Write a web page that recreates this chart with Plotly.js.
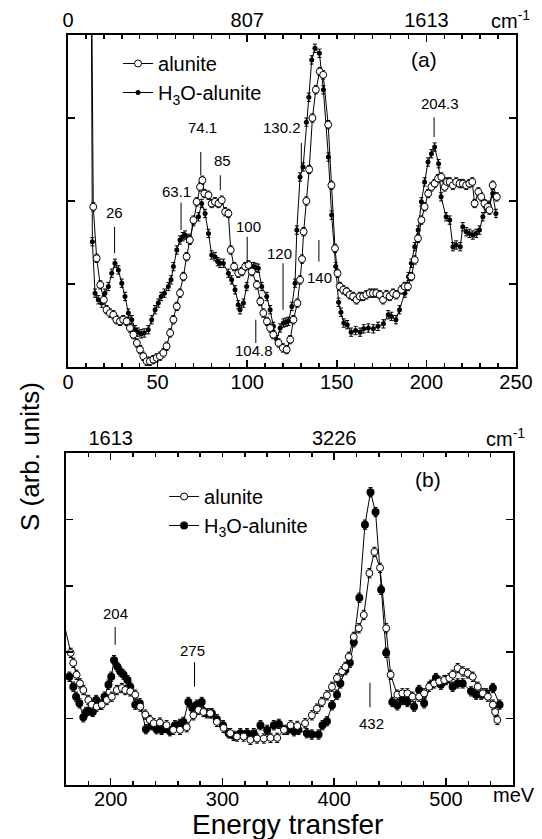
<!DOCTYPE html>
<html><head><meta charset="utf-8">
<script src="https://cdn.plot.ly/plotly-3.0.1.min.js"></script>
<style>html,body{margin:0;padding:0;background:#fff}#chart{width:542px;height:839px}</style>
</head><body><div id="chart"></div>
<script>
// ---------- DATA ----------
// Panel (a): energy transfer (meV) and S (arb. units)
const alunA_E = [12.9,14.1,16.0,18.0,20.0,21.5,23.4,25.3,27.0,29.0,30.8,32.7,34.6,36.5,38.4,40.2,42.0,43.9,45.7,47.6,49.5,51.3,53.2,55.0,57.0,58.8,60.7,62.5,64.4,66.2,68.0,70.0,71.8,73.7,75.0,76.1,78.4,80.2,82.0,84.0,85.8,87.7,89.5,90.8,92.7,95.0,97.0,98.9,100.7,102.6,105.4,107.3,109.0,111.0,112.8,114.6,117.5,119.9,122.0,124.0,125.8,128.0,129.5,130.6,131.5,133.0,134.6,136.4,138.3,140.5,142.4,145.2,147.0,149.0,150.4,151.7,153.6,155.4,157.2,159.1,161.0,162.8,164.7,166.5,168.4,170.2,172.0,174.0,175.8,177.7,179.5,181.4,183.2,186.0,187.9,189.7,191.6,193.5,195.3,197.2,199.0,201.0,202.8,204.6,206.5,208.3,210.2,211.5,213.0,214.8,216.6,218.5,220.3,222.2,224.0,225.6,226.9,229.0,230.6,232.4,234.3,235.2,237.0,239.3];
const alunA_S = [5.5,1.93,1.31,0.99,0.81,0.69,0.65,0.63,0.57,0.55,0.57,0.55,0.47,0.39,0.29,0.21,0.13,0.07,0.07,0.09,0.11,0.13,0.17,0.25,0.41,0.57,0.73,0.89,1.09,1.33,1.53,1.77,1.99,2.17,2.25,2.09,2.07,1.97,1.99,1.97,2.01,1.87,1.85,1.41,1.21,1.13,1.15,1.21,1.23,1.15,0.99,0.79,0.65,0.55,0.47,0.39,0.29,0.23,0.21,0.33,0.57,0.77,1.05,1.30,1.63,2.00,2.38,3.00,3.34,3.56,3.52,2.92,2.19,1.43,1.13,0.97,0.93,0.91,0.87,0.85,0.81,0.85,0.85,0.87,0.89,0.89,0.89,0.87,0.81,0.87,0.85,0.89,0.87,0.93,0.97,0.97,1.09,1.29,1.55,1.77,1.93,2.09,2.17,2.21,2.27,2.29,2.17,2.23,2.23,2.19,2.23,2.21,2.21,2.19,2.21,2.23,1.97,2.11,2.05,1.97,1.93,1.89,2.19,2.05];

const h3oA_E = [12.8,13.6,15.1,16.9,18.8,20.6,22.5,24.4,26.2,28.1,30.0,31.8,33.7,35.6,37.4,39.0,40.8,42.5,44.8,46.7,48.6,50.4,52.0,53.8,56.0,57.5,58.8,60.7,62.5,64.0,65.3,67.0,68.1,70.0,72.8,74.6,76.5,78.4,80.2,82.0,83.5,84.8,86.7,89.5,91.3,93.2,95.0,96.0,97.9,99.7,101.6,103.4,104.8,106.2,108.1,110.9,112.8,114.6,116.5,118.4,120.2,121.6,123.0,124.9,126.7,127.7,129.5,131.2,133.0,134.4,136.0,137.8,140.3,142.5,145.3,147.1,149.4,151.0,152.3,153.9,155.8,158.0,160.5,163.0,165.0,167.6,170.4,173.0,176.0,178.7,180.5,183.0,185.0,188.0,190.0,191.6,193.5,195.4,197.2,199.0,200.9,202.8,204.6,206.8,208.2,211.0,213.0,214.8,216.6,218.9,220.3,222.2,224.0,225.9,227.8,229.6,231.5,233.3,235.0,237.0,238.8];
const h3oA_S = [5.5,1.51,0.89,0.81,0.77,0.89,0.97,1.13,1.25,1.17,1.01,0.85,0.65,0.57,0.45,0.42,0.40,0.41,0.45,0.57,0.69,0.77,0.85,0.89,0.97,1.05,1.21,1.41,1.53,1.57,1.59,1.55,1.53,1.75,1.81,1.97,1.85,1.61,1.35,1.33,1.27,1.25,1.25,1.13,1.05,0.93,0.75,0.69,0.77,0.97,1.19,1.21,1.20,1.19,0.97,0.85,0.69,0.49,0.33,0.47,0.53,0.54,0.55,0.73,1.01,1.65,2.29,2.41,2.95,3.25,3.70,3.84,3.78,3.34,2.53,1.83,1.21,0.78,0.66,0.53,0.51,0.42,0.44,0.42,0.46,0.47,0.46,0.49,0.52,0.63,0.61,0.57,0.69,0.89,1.09,1.25,1.45,1.65,1.99,2.23,2.47,2.57,2.65,2.45,2.05,1.81,1.77,1.45,1.47,1.45,1.69,1.63,1.61,1.59,1.61,1.65,1.81,1.91,1.95,2.09,1.85];

// Panel (b)
const alunB_E = [156.0,164.2,166.5,169.5,172.5,175.5,180.0,183.0,187.5,192.0,196.5,201.0,205.5,210.0,213.0,217.5,222.0,226.5,231.0,235.0,238.5,244.0,250.0,256.0,262.0,268.0,274.0,278.5,283.0,289.0,295.0,301.0,307.0,313.0,319.0,325.0,331.0,337.0,343.0,349.0,355.0,361.0,367.0,374.0,380.0,384.5,389.0,393.5,398.0,402.5,407.0,410.0,413.0,417.5,422.0,426.5,431.5,436.0,441.0,446.5,450.5,456.5,461.0,465.5,470.0,476.0,480.5,485.0,489.5,494.0,498.5,503.0,506.0,510.5,515.0,519.5,524.0,528.5,533.0,537.5,542.0,544.0,546.0];
const alunB_S = [2.59,1.99,1.84,1.66,1.53,1.43,1.28,1.21,1.18,1.21,1.28,1.33,1.43,1.46,1.43,1.41,1.36,1.18,1.06,0.98,0.93,0.94,0.90,0.83,0.83,0.87,1.05,1.13,1.10,1.08,0.95,0.86,0.78,0.73,0.73,0.68,0.70,0.70,0.71,0.71,0.83,0.90,0.89,0.93,1.05,1.15,1.25,1.35,1.48,1.61,1.71,1.78,1.93,2.23,2.36,2.56,3.19,3.51,3.27,2.36,1.66,1.36,1.38,1.38,1.33,1.33,1.38,1.48,1.53,1.56,1.58,1.61,1.66,1.76,1.71,1.68,1.63,1.48,1.38,1.33,1.21,1.10,0.98];

const h3oB_E = [163.0,166.5,169.0,172.0,175.5,178.0,181.0,184.0,187.0,190.5,194.5,198.0,200.5,203.0,206.0,208.5,211.5,215.0,217.5,222.0,226.0,231.5,236.5,241.0,245.5,249.0,253.0,257.5,262.0,265.0,269.5,273.0,277.0,281.5,286.0,290.5,295.0,300.5,305.5,310.0,316.0,322.0,328.0,334.0,340.0,346.0,350.5,358.0,364.0,368.0,375.5,380.0,386.0,389.5,393.5,398.0,402.5,405.5,410.0,414.0,417.5,422.5,427.5,432.5,437.0,442.0,446.5,452.0,456.5,461.0,465.5,471.5,476.0,480.5,486.5,491.0,495.5,500.0,506.0,510.5,515.0,522.5,527.0,531.5,536.0,542.0,548.0];
const h3oB_S = [1.63,1.48,1.33,1.23,1.02,1.10,1.12,1.10,1.28,1.21,1.33,1.51,1.63,1.88,1.78,1.71,1.66,1.58,1.48,1.21,1.23,0.84,0.90,0.84,0.83,0.86,0.81,0.90,0.92,0.95,1.25,1.16,1.21,1.25,1.08,1.08,0.99,0.90,0.78,0.74,0.78,0.78,0.78,0.90,0.83,0.90,0.92,0.83,0.81,0.83,0.78,0.76,0.76,0.90,0.96,1.20,1.36,1.53,1.73,1.84,2.15,2.82,3.92,4.41,4.11,2.94,1.99,1.25,1.20,1.28,1.25,1.18,1.43,1.23,1.51,1.61,1.51,1.58,1.48,1.53,1.53,1.41,1.36,1.36,1.38,1.46,1.21];

const errA = 0.05;   // typical error bar half-height, panel (a)
const errB = 0.07;   // panel (b)

const seriesNames = ['alunite', 'H<sub>3</sub>O-alunite'];

// peak labels (meV)
const peakTextA = ['26','63.1','74.1','85','100','104.8','120','130.2','140','204.3'];
const peakPosA  = [26, 63.1, 74.1, 85, 100, 104.8, 120, 130.2, 140, 204.3];
const peakTextB = ['204','275','432'];
const peakPosB  = [204, 275, 432];

// axis tick labels
const topTickValsA = [0, 100, 200];
const topTickTextA = ['0', '807', '1613'];
const topTickValsB = [200, 400];
const topTickTextB = ['1613', '3226'];

// ---------- LAYOUT PLACEMENT (positions only) ----------
// [line bottom, line top, text x, text y] per peak
const placeA = [
  [1.37,1.69,26.2,1.86],
  [1.65,1.98,60.6,2.11],
  [2.31,2.59,75.3,2.88],
  [2.13,2.31,86.2,2.49],
  [1.25,1.57,100.7,1.69],
  [0.29,0.57,103.8,0.20],
  [0.69,1.25,117.8,1.37],
  [2.37,2.70,119.2,2.88],
  [1.27,1.53,140.3,1.08],
  [2.77,3.01,207.5,3.18]
];
const placeB = [
  [2.11,2.38,204.7,2.59],
  [1.48,1.85,273.6,2.03],
  [1.17,1.54,433.8,0.93]
];

const FONT = 'Liberation Sans, Arial, Helvetica, sans-serif';
const BLK = '#000';

function openTrace(x, y, xa, ya, err, leg, size) {
  return {
    x: x, y: y, xaxis: xa, yaxis: ya, type: 'scatter', mode: 'lines+markers',
    name: seriesNames[0], legend: leg, legendrank: 1,
    line: {color: BLK, width: 1},
    marker: {symbol: 'circle', size: size, color: '#fff', line: {color: BLK, width: 1}},
    error_y: {type: 'constant', value: err, color: BLK, thickness: 1, width: 2},
    cliponaxis: true, hoverinfo: 'x+y'
  };
}
function filledTrace(x, y, xa, ya, err, leg, size) {
  return {
    x: x, y: y, xaxis: xa, yaxis: ya, type: 'scatter', mode: 'lines+markers',
    name: seriesNames[1], legend: leg, legendrank: 2,
    line: {color: BLK, width: 1},
    marker: {symbol: 'circle', size: size, color: BLK, line: {color: BLK, width: 0}},
    error_y: {type: 'constant', value: err, color: BLK, thickness: 1, width: 2},
    cliponaxis: true, hoverinfo: 'x+y'
  };
}

const traces = [
  filledTrace(h3oA_E, h3oA_S, 'x', 'y', errA, 'legend', 5),
  openTrace(alunA_E, alunA_S, 'x', 'y', errA, 'legend', 7),
  filledTrace(h3oB_E, h3oB_S, 'x2', 'y2', errB, 'legend2', 8),
  openTrace(alunB_E, alunB_S, 'x2', 'y2', errB, 'legend2', 7),
  {x: [], y: [], xaxis: 'x3', yaxis: 'y', showlegend: false, hoverinfo: 'skip', type: 'scatter'},
  {x: [], y: [], xaxis: 'x4', yaxis: 'y2', showlegend: false, hoverinfo: 'skip', type: 'scatter'}
];

const tickFont = {family: FONT, size: 20, color: BLK};
function xAxisBase(extra) {
  return Object.assign({
    showline: true, linecolor: BLK, linewidth: 2, ticks: 'inside', ticklen: 7, tickwidth: 1.5,
    tickcolor: BLK, showgrid: false, zeroline: false, tickfont: tickFont, fixedrange: true
  }, extra);
}
function yAxisBase(extra) {
  return Object.assign({
    showline: true, linecolor: BLK, linewidth: 2, ticks: 'inside', ticklen: 7, tickwidth: 1.5,
    tickcolor: BLK, showgrid: false, zeroline: false, showticklabels: false, mirror: 'ticks',
    tickmode: 'linear', tick0: 0, dtick: 1, fixedrange: true
  }, extra);
}

const annotations = [];
const shapes = [];
peakTextA.forEach((t, i) => {
  const p = placeA[i];
  shapes.push({type: 'line', xref: 'x', yref: 'y', x0: peakPosA[i], x1: peakPosA[i], y0: p[0], y1: p[1], line: {color: BLK, width: 1}});
  annotations.push({xref: 'x', yref: 'y', x: p[2], y: p[3], text: t, showarrow: false, font: {family: FONT, size: 15, color: BLK}, xanchor: 'center', yanchor: 'middle'});
});
peakTextB.forEach((t, i) => {
  const p = placeB[i];
  shapes.push({type: 'line', xref: 'x2', yref: 'y2', x0: peakPosB[i], x1: peakPosB[i], y0: p[0], y1: p[1], line: {color: BLK, width: 1}});
  annotations.push({xref: 'x2', yref: 'y2', x: p[2], y: p[3], text: t, showarrow: false, font: {family: FONT, size: 15, color: BLK}, xanchor: 'center', yanchor: 'middle'});
});
const big = (s) => ({family: FONT, size: s, color: BLK});
const C = {xanchor: 'center', yanchor: 'middle', showarrow: false, xref: 'paper', yref: 'paper'};
annotations.push(
  Object.assign({x: 0.7956, y: 0.9667, text: '(a)', font: big(21)}, C),
  Object.assign({x: 0.804, y: 0.4067, text: '(b)', font: big(21)}, C),
  Object.assign({x: 0.987, y: 1.02, text: 'cm<sup>-1</sup>', font: big(20)}, C),
  Object.assign({x: 0.9756, y: 0.464, text: 'cm<sup>-1</sup>', font: big(20)}, C),
  Object.assign({x: 0.9956, y: -0.0133, text: 'meV', font: big(20)}, C),
  Object.assign({x: 0.4933, y: -0.0533, text: 'Energy transfer', font: big(28)}, C),
  Object.assign({x: -0.08, y: 0.4373, text: 'S (arb. units)', textangle: -90, font: big(26)}, C)
);

const layout = {
  width: 542, height: 839,
  margin: {l: 66, r: 26, t: 35, b: 54, pad: 0},
  paper_bgcolor: '#fff', plot_bgcolor: '#fff',
  font: {family: FONT, color: BLK},
  xaxis: xAxisBase({domain: [0.00444, 1], anchor: 'y', range: [0, 250], tickmode: 'linear', tick0: 0, dtick: 50,
    ticklabelstandoff: -4,
    minor: {tick0: 0, dtick: 10, ticks: 'inside', ticklen: 4, tickwidth: 1.5, tickcolor: BLK, showgrid: false}}),
  xaxis3: xAxisBase({overlaying: 'x', side: 'top', anchor: 'y', range: [0, 250], tickmode: 'array',
    tickvals: topTickValsA, ticktext: topTickTextA, ticklabelstandoff: -2,
    minor: {tick0: 0, dtick: 10, ticks: 'inside', ticklen: 4, tickwidth: 1.5, tickcolor: BLK, showgrid: false}}),
  yaxis: yAxisBase({domain: [0.5573, 1], anchor: 'x', range: [0, 4]}),
  xaxis2: xAxisBase({domain: [0, 0.99333], anchor: 'y2', range: [160, 560], tickmode: 'linear', tick0: 0, dtick: 100,
    ticklabelstandoff: -5,
    minor: {tick0: 0, dtick: 20, ticks: 'inside', ticklen: 4, tickwidth: 1.5, tickcolor: BLK, showgrid: false}}),
  xaxis4: xAxisBase({overlaying: 'x2', side: 'top', anchor: 'y2', range: [160, 560], tickmode: 'array',
    tickvals: topTickValsB, ticktext: topTickTextB, ticklabelstandoff: -2,
    minor: {tick0: 0, dtick: 20, ticks: 'inside', ticklen: 4, tickwidth: 1.5, tickcolor: BLK, showgrid: false}}),
  yaxis2: yAxisBase({domain: [0, 0.4427], anchor: 'x2', range: [0, 5]}),
  legend: {x: 0.1156, y: 0.988, xanchor: 'left', yanchor: 'top', bgcolor: 'rgba(0,0,0,0)', borderwidth: 0,
    font: {family: FONT, size: 20, color: BLK}, tracegroupgap: 0},
  legend2: {x: 0.218, y: 0.4107, xanchor: 'left', yanchor: 'top', bgcolor: 'rgba(0,0,0,0)', borderwidth: 0,
    font: {family: FONT, size: 20, color: BLK}, tracegroupgap: 0},
  showlegend: true,
  annotations: annotations,
  shapes: shapes
};

Plotly.newPlot('chart', traces, layout, {staticPlot: true, displayModeBar: false});
</script></body></html>
